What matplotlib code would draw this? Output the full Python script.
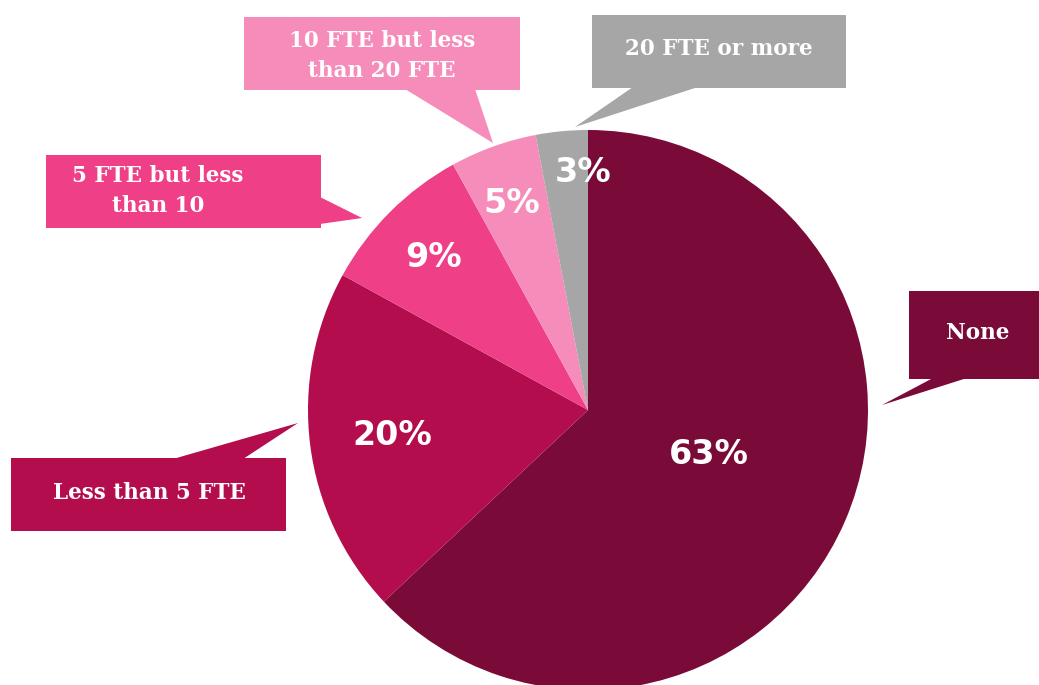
import numpy as np
import matplotlib
matplotlib.use("Agg")
import matplotlib.pyplot as plt
from matplotlib.patches import Rectangle, Polygon

# dados ------------------------------------------------------------------------
categorias = ["None", "Less than 5 FTE", "5 FTE but less\nthan 10",
              "10 FTE but less\nthan 20 FTE", "20 FTE or more"]
valores = [63, 20, 9, 5, 3]
cores = ["#7A0A38", "#B30D4D", "#EE3F87", "#F68CB9", "#A6A6A6"]

W, H = 1039, 685


def py(y):
    # converte y de pixel (de cima) para coordenada do eixo
    return H - y


fig = plt.figure(figsize=(W / 100, H / 100), dpi=100)
ax = fig.add_axes([0, 0, 1, 1])

cx, cy, r = 588, py(410), 280
wedges, _ = ax.pie(valores, colors=cores, startangle=90, counterclock=False,
                   center=(cx, cy), radius=r,
                   wedgeprops=dict(linewidth=0))

ax.set_xlim(0, W)
ax.set_ylim(0, H)
ax.set_aspect("equal")
ax.axis("off")

# rótulos de porcentagem dentro das fatias
label_r = [0.46, 0.704, 0.776, 0.784, 0.849]
label_da = [3.2, 0.2, 0.3, 0.4, -4.1]   # ajuste fino do ângulo (graus)
for w, v, lr, da in zip(wedges, valores, label_r, label_da):
    ang = np.deg2rad((w.theta1 + w.theta2) / 2 + da)
    ax.text(cx + lr * r * np.cos(ang), cy + lr * r * np.sin(ang), f"{v}%",
            color="white", fontsize=24, fontweight="bold",
            ha="center", va="center", family="DejaVu Sans")

# caixas de chamada (x0, y0, x1, y1), ponteiro, centro do texto
caixas = [
    ((909, 291, 1045, 379), [(933, 378), (967, 378), (882, 405)], (978, 333)),
    ((11, 458, 286, 531), [(173, 459), (243, 459), (298, 423)], (149, 493)),
    ((46, 155, 321, 228), [(320, 197), (362, 218), (320, 224)], (158, 191)),
    ((244, 17, 520, 90), [(405, 89), (475, 89), (493, 143)], (382, 56)),
    ((592, 15, 846, 88), [(633, 87), (698, 87), (575, 127)], (719, 49)),
]

for (box, tri, txt), cat, cor in zip(caixas, categorias, cores):
    x0, y0, x1, y1 = box
    ax.add_patch(Rectangle((x0, py(y1)), x1 - x0, y1 - y0, color=cor,
                           linewidth=0, clip_on=False))
    ax.add_patch(Polygon([(x, py(y)) for x, y in tri], closed=True,
                         color=cor, linewidth=0))
    ax.text(txt[0], py(txt[1]), cat, color="white", fontsize=15.5,
            fontweight="bold", family="DejaVu Serif", ha="center",
            va="center", linespacing=1.45)

fig.savefig("out.png", dpi=100)
